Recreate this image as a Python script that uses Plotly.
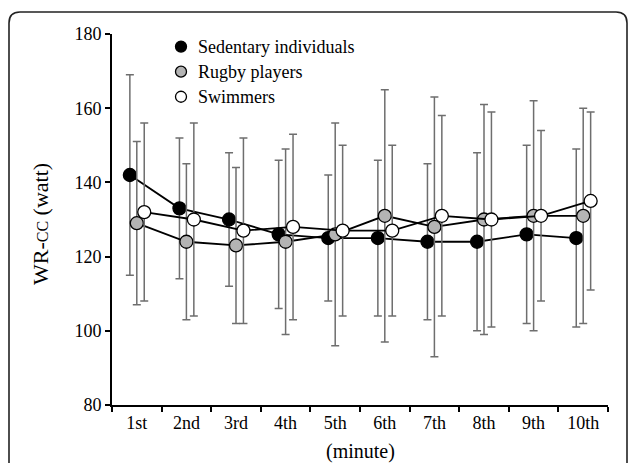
import plotly.graph_objects as go

minutes = ["1st", "2nd", "3rd", "4th", "5th", "6th", "7th", "8th", "9th", "10th"]

sed_mean = [142, 133, 130, 126, 125, 125, 124, 124, 126, 125]
sed_hi = [169, 152, 148, 146, 142, 146, 145, 148, 150, 149]
sed_lo = [115, 114, 112, 106, 108, 104, 103, 100, 102, 101]

rug_mean = [129, 124, 123, 124, 126, 131, 128, 130, 131, 131]
rug_hi = [151, 145, 144, 149, 156, 165, 163, 161, 162, 160]
rug_lo = [107, 103, 102, 99, 96, 97, 93, 99, 100, 102]

swi_mean = [132, 130, 127, 128, 127, 127, 131, 130, 131, 135]
swi_hi = [156, 156, 152, 153, 150, 150, 158, 159, 154, 159]
swi_lo = [108, 104, 102, 103, 104, 104, 104, 101, 108, 111]

series = [
    ("Sedentary individuals", sed_mean, sed_hi, sed_lo, "black", -0.14),
    ("Rugby players", rug_mean, rug_hi, rug_lo, "#b4b4b4", 0.0),
    ("Swimmers", swi_mean, swi_hi, swi_lo, "white", 0.15),
]

FONT = "Liberation Serif"
W, H = 629, 463
L, R, T, B = 112, 21, 34, 58
pw, ph = W - L - R, H - T - B

fig = go.Figure()
pos = list(range(1, len(minutes) + 1))
for name, m, hi, lo, col, off in series:
    xs = [p + off for p in pos]
    fig.add_trace(go.Scatter(
        x=xs, y=m, mode="lines+markers", name=name, showlegend=False,
        line=dict(color="black", width=1.8),
        marker=dict(size=13, color=col, line=dict(color="black", width=1.3)),
        error_y=dict(type="data", symmetric=False,
                     array=[h - v for h, v in zip(hi, m)],
                     arrayminus=[v - l for v, l in zip(m, lo)],
                     color="#6e6e6e", thickness=1.5, width=4),
    ))
# legend symbols (labels are drawn as annotations below)
for i, (name, m, hi, lo, col, off) in enumerate(series):
    fig.add_trace(go.Scatter(
        x=[None], y=[None], mode="markers", name=" " * (i + 1),
        showlegend=True,
        marker=dict(size=11, color=col, line=dict(color="black", width=1.3)),
    ))

def px_x(x):
    return (x - L) / pw

def px_y(y):
    return (H - B - y) / ph

legend_rows = [47, 72, 97]
for (name, *_), yy in zip(series, legend_rows):
    fig.add_annotation(
        x=px_x(196), y=px_y(yy), xref="paper", yref="paper", text=name,
        showarrow=False, xanchor="left", yanchor="middle",
        font=dict(family=FONT, size=18, color="black"))

# rounded frame
x0, x1, y0, y1, r = 9, 627, 12, 480, 11
path = (f"M {px_x(x0)},{px_y(y1)} L {px_x(x0)},{px_y(y0 + r)} "
        f"Q {px_x(x0)},{px_y(y0)} {px_x(x0 + r)},{px_y(y0)} "
        f"L {px_x(x1 - r)},{px_y(y0)} "
        f"Q {px_x(x1)},{px_y(y0)} {px_x(x1)},{px_y(y0 + r)} "
        f"L {px_x(x1)},{px_y(y1)}")
fig.add_shape(type="path", xref="paper", yref="paper", path=path,
              line=dict(color="#222", width=1.6), layer="above")

fig.add_annotation(
    x=px_x(40), y=px_y(224), xref="paper", yref="paper", textangle=-90,
    text="WR-<span style='font-size:16px'>CC</span> (watt)", showarrow=False,
    font=dict(family=FONT, size=22, color="black"), xanchor="center", yanchor="middle")

fig.add_annotation(
    x=px_x(360), y=px_y(452), xref="paper", yref="paper",
    text="(minute)", showarrow=False,
    font=dict(family=FONT, size=20, color="black"), xanchor="center", yanchor="middle")

fig.update_layout(
    width=W, height=H,
    margin=dict(l=L, r=R, t=T, b=B),
    paper_bgcolor="white", plot_bgcolor="white",
    font=dict(family=FONT, size=18, color="black"),
    legend=dict(x=px_x(161), y=px_y(29), xanchor="left", yanchor="top",
                bgcolor="rgba(0,0,0,0)",
                font=dict(family=FONT, size=17, color="black"),
                itemwidth=30, tracegroupgap=0),
    xaxis=dict(range=[0.5, len(minutes) + 0.5], tickvals=pos, ticktext=minutes,
               ticks="",
               showline=True, linecolor="black", linewidth=2,
               showgrid=False, zeroline=False,
               minor=dict(tickvals=[p - 0.5 for p in pos] + [len(minutes) + 0.5],
                          ticks="outside", ticklen=5, tickcolor="black", tickwidth=1.5),
               tickfont=dict(family=FONT, size=18)),
    yaxis=dict(range=[80, 180], tickvals=[80, 100, 120, 140, 160, 180],
               ticks="outside", ticklen=5, tickwidth=1.5, tickcolor="black",
               showline=True, linecolor="black", linewidth=2,
               showgrid=False, zeroline=False,
               tickfont=dict(family=FONT, size=18)),
)

fig.write_html("out.html")
